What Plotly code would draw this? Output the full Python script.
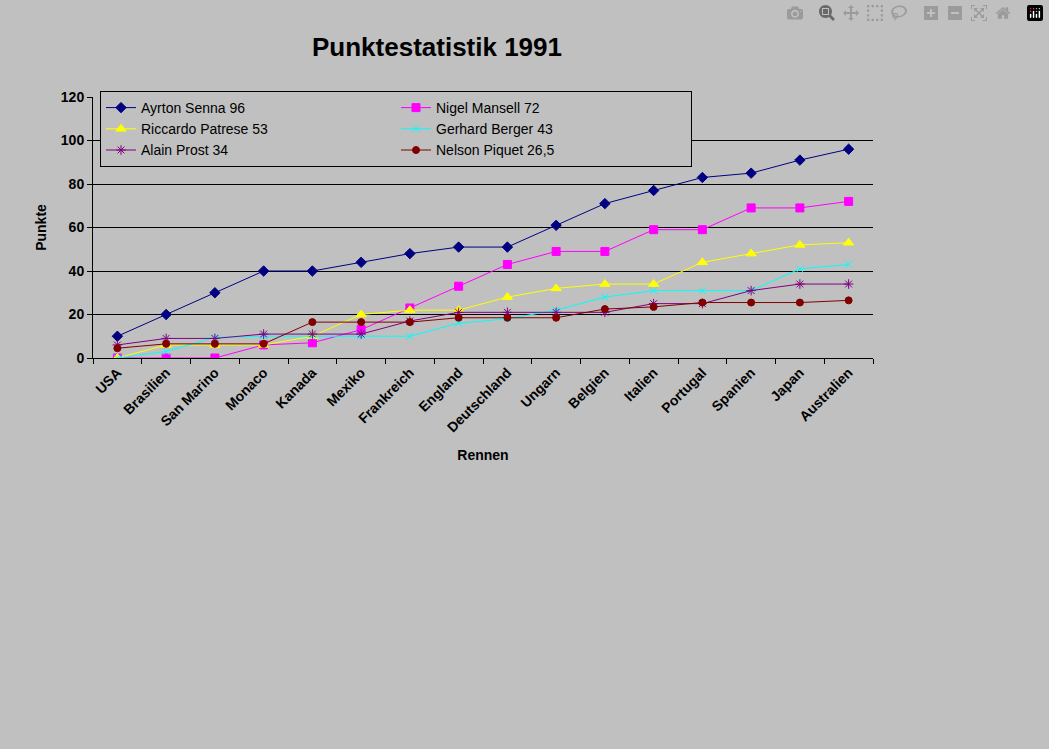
import plotly.graph_objects as go

rennen = ["USA","Brasilien","San Marino","Monaco","Kanada","Mexiko","Frankreich","England",
          "Deutschland","Ungarn","Belgien","Italien","Portugal","Spanien","Japan","Australien"]
senna   = [10,20,30,40,40,44,48,51,51,61,71,77,83,85,91,96]
mansell = [0,0,0,6,7,13,23,33,43,49,49,59,59,69,69,72]
patrese = [0,6,6,6,10,20,22,22,28,32,34,34,44,48,52,53]
berger  = [0,3,9.5,10,10,10,10,16,18,22,28,31,31,31,41,43]
prost   = [6,9,9,11,11,11,17,21,21,21,21,25,25,31,34,34]
piquet  = [4.5,6.5,6.5,6.5,16.5,16.5,16.5,18.5,18.5,18.5,22.5,23.5,25.5,25.5,25.5,26.5]

series = [
    ("Ayrton Senna 96", senna, "#000080", "diamond", 8),
    ("Nigel Mansell 72", mansell, "#ff00ff", "square", 8),
    ("Riccardo Patrese 53", patrese, "#ffff00", "triangle-up", 9),
    ("Gerhard Berger 43", berger, "#00ffff", "x-thin", 7),
    ("Alain Prost 34", prost, "#800080", "asterisk", 8),
    ("Nelson Piquet 26,5", piquet, "#800000", "circle", 7),
]

fig = go.Figure()
for name, vals, col, sym, sz in series:
    fig.add_trace(go.Scatter(x=rennen, y=vals, name=name, mode="lines+markers",
                             line=dict(color=col, width=1),
                             marker=dict(symbol=sym, size=sz, color=col,
                                         line=dict(color=col, width=1))))

fig.update_layout(
    width=1049, height=749, paper_bgcolor="#c0c0c0", plot_bgcolor="#c0c0c0",
    margin=dict(l=93, r=176, t=97, b=391),
    font=dict(family="Liberation Sans, Arial", color="black", size=13),
    title=dict(text="<b>Punktestatistik 1991</b>", x=437/1049, xanchor="center",
               y=1-47/749, yanchor="middle", font=dict(size=26)),
    showlegend=True,
    legend=dict(orientation="h", x=7/780, y=1+6/261, xanchor="left", yanchor="top",
                bgcolor="#c0c0c0", bordercolor="black", borderwidth=1,
                entrywidth=250, font=dict(size=14), tracegroupgap=0),
    xaxis=dict(type="category", tickangle=-45, tickfont=dict(size=14, family="Liberation Sans, Arial"),
               showline=True, linecolor="black", mirror=False, showgrid=False,
               ticks="outside", tickson="boundaries", ticklen=5, tickcolor="black",
               title=dict(text="<b>Rennen</b>", font=dict(size=14)), range=[-0.5, 15.5]),
    yaxis=dict(range=[0, 120], dtick=20, showgrid=True, gridcolor="black", gridwidth=1,
               showline=True, linecolor="black", ticks="outside", ticklen=5, tickcolor="black",
               tickfont=dict(size=14), zeroline=False,
               title=dict(text="<b>Punkte</b>", font=dict(size=14), standoff=10)),
)
fig.update_xaxes(tickprefix="<b>", ticksuffix="</b>")
fig.update_yaxes(tickprefix="<b>", ticksuffix="</b>")
fig.write_html("out.html", post_script="document.body.style.margin='0';document.body.style.background='#c0c0c0';")
